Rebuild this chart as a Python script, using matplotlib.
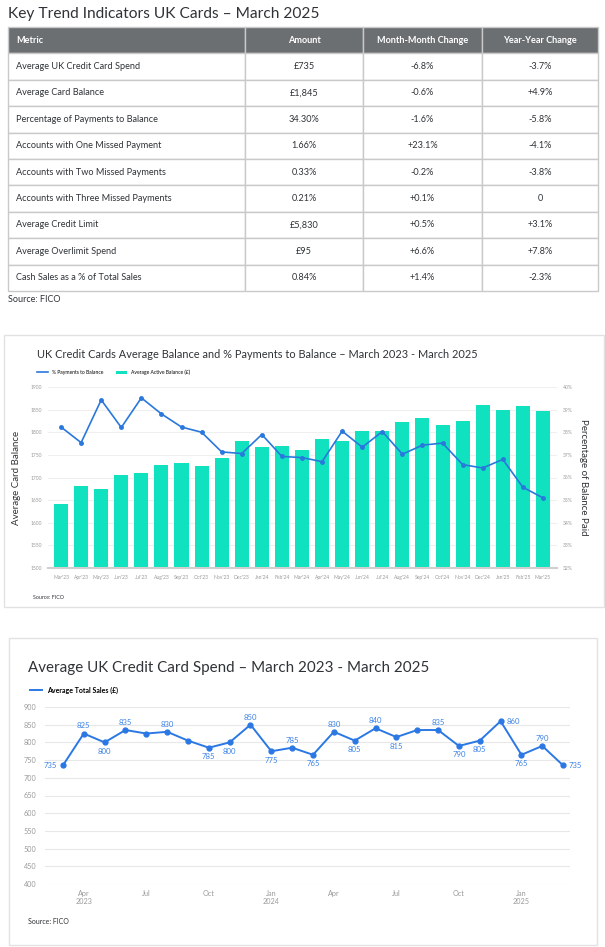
import matplotlib
matplotlib.use("Agg")
from matplotlib import pyplot as plt
from matplotlib.patches import Rectangle
from matplotlib.lines import Line2D

plt.rcParams['font.family'] = ['Lato', 'DejaVu Sans']

# --- table data ---
col_labels = ["Metric", "Amount", "Month-Month Change", "Year-Year Change"]
metrics = ["Average UK Credit Card Spend", "Average Card Balance",
           "Percentage of Payments to Balance", "Accounts with One Missed Payment",
           "Accounts with Two Missed Payments", "Accounts with Three Missed Payments",
           "Average Credit Limit", "Average Overlimit Spend",
           "Cash Sales as a % of Total Sales"]
amounts = ["£735", "£1,845", "34.30%", "1.66%", "0.33%", "0.21%", "£5,830", "£95", "0.84%"]
mom_change = ["-6.8%", "-0.6%", "-1.6%", "+23.1%", "-0.2%", "+0.1%", "+0.5%", "+6.6%", "+1.4%"]
yoy_change = ["-3.7%", "+4.9%", "-5.8%", "-4.1%", "-3.8%", "0", "+3.1%", "+7.8%", "-2.3%"]

# --- balance / payments chart ---
months = ["Mar'23", "Apr'23", "May'23", "Jun'23", "Jul'23", "Aug'23", "Sep'23", "Oct'23",
          "Nov'23", "Dec'23", "Jan'24", "Feb'24", "Mar'24", "Apr'24", "May'24", "Jun'24",
          "Jul'24", "Aug'24", "Sep'24", "Oct'24", "Nov'24", "Dec'24", "Jan'25", "Feb'25", "Mar'25"]
avg_balance = [1642, 1681, 1675, 1705, 1711, 1728, 1732, 1725, 1742, 1781, 1768, 1770, 1761,
               1785, 1781, 1802, 1802, 1823, 1832, 1816, 1825, 1860, 1849, 1858, 1847]
pct_paid = [38.23, 37.54, 39.43, 38.21, 39.52, 38.81, 38.23, 38.0, 37.13, 37.06, 37.9, 36.93,
            36.88, 36.70, 38.05, 37.34, 38.03, 37.03, 37.43, 37.52, 36.57, 36.42, 36.80, 35.57, 35.1]

# --- spend chart ---
avg_spend = [735, 825, 800, 835, 825, 830, 805, 785, 800, 850, 775, 785, 765,
             830, 805, 840, 815, 835, 835, 790, 805, 860, 765, 790, 735]
spend_ticks = ["Apr\n2023", "Jul", "Oct", "Jan\n2024", "Apr", "Jul", "Oct", "Jan\n2025"]
label_pos = ['left', 'above', 'below', 'above', None, 'above', None, 'below', 'below', 'above',
             'below', 'above', 'below', 'above', 'below', 'above', 'below', None, 'above',
             'below', 'below', 'right', 'below', 'above', 'right']

W, H = 605, 947
fig = plt.figure(figsize=(W / 100, H / 100), dpi=100)
fig.patch.set_facecolor("white")


def fr(x0, y0, x1, y1):
    return [x0 / W, 1 - y1 / H, (x1 - x0) / W, (y1 - y0) / H]


def card(x0, y0, x1, y1):
    fig.add_artist(Rectangle((x0 / W, 1 - y1 / H), (x1 - x0) / W, (y1 - y0) / H,
                             transform=fig.transFigure, fill=False,
                             edgecolor="#e2e2e2", linewidth=1))


dark = "#2f3337"
grey = "#9a9a9a"

# ---------------- table ----------------
fig.text(8 / W, 1 - 14 / H, "Key Trend Indicators UK Cards – March 2025",
         fontsize=11.2, color=dark, va="center")
axt = fig.add_axes(fr(8, 27, 598, 291))
axt.axis("off")
rows = [list(r) for r in zip(metrics, amounts, mom_change, yoy_change)]
tbl = axt.table(cellText=rows, colLabels=col_labels, bbox=[0, 0, 1, 1],
                colWidths=[237, 118, 119, 116])
tbl.auto_set_font_size(False)
for (r, c), cell in tbl.get_celld().items():
    cell.set_edgecolor("#c9c9c9")
    cell.set_linewidth(1)
    txt = cell.get_text()
    txt.set_fontsize(6.6)
    if r == 0:
        cell.set_facecolor("#6c6f72")
        txt.set_color("white")
        txt.set_fontweight("bold")
    else:
        txt.set_color(dark)
    if c == 0:
        cell.set_text_props(ha="left")
        cell.PAD = 0.035
    else:
        txt.set_ha("center")
fig.text(8 / W, 1 - 299 / H, "Source: FICO", fontsize=6.5, color=dark, va="center")

# ---------------- balance chart ----------------
card(4, 335, 604, 607)
fig.text(37 / W, 1 - 355 / H,
         "UK Credit Cards Average Balance and % Payments to Balance – March 2023 - March 2025",
         fontsize=7.9, color=dark, va="center")
ax1 = fig.add_axes(fr(48, 387, 557, 568))
x = range(len(months))
bars = ax1.bar(x, avg_balance, width=0.7, color="#10e2c0", zorder=2,
               label="Average Active Balance (£)")
ax1.set_ylim(1500, 1900)
ax1.set_xlim(-0.65, 24.7)
ax1.set_yticks(range(1500, 1901, 50))
ax1.grid(axis="y", color="#efefef", linewidth=0.8, zorder=0)
ax1.set_axisbelow(True)
for s in ["top", "right", "left"]:
    ax1.spines[s].set_visible(False)
ax1.spines["bottom"].set_color("#cfcfcf")
ax1.spines["bottom"].set_linewidth(1.5)
ax1.set_xticks(list(x))
ax1.set_xticklabels(months)
ax1.tick_params(axis="both", length=0, labelsize=3.6, labelcolor=grey)
ax1.tick_params(axis="x", pad=5)
ax1.tick_params(axis="y", pad=4)
ax1.set_ylabel("Average Card Balance", fontsize=7, color=dark, labelpad=7)

ax2 = ax1.twinx()
line, = ax2.plot(x, pct_paid, color="#2a78dc", linewidth=1.2, marker="o",
                 markersize=2.5, label="% Payments to Balance", zorder=3)
ax2.set_ylim(32, 40)
ax2.set_yticks(range(32, 41))
ax2.set_yticklabels([f"{v}%" for v in range(32, 41)])
for s in ["top", "right", "left", "bottom"]:
    ax2.spines[s].set_visible(False)
ax2.tick_params(axis="y", length=0, labelsize=3.6, labelcolor=grey, pad=4)
ax2.set_ylabel("Percentage of Balance Paid", fontsize=7, color=dark, rotation=270,
               labelpad=11)
leg_line = Line2D([], [], color="#2a78dc", linewidth=1.2)
ax1.legend(handles=[leg_line, bars], labels=["% Payments to Balance", "Average Active Balance (£)"],
           loc="lower left", bbox_to_anchor=(-0.025, 1.055),
           ncol=2, fontsize=3.6, frameon=False, handlelength=2.2, columnspacing=2.5,
           borderaxespad=0)
fig.text(33 / W, 1 - 597 / H, "Source: FICO", fontsize=3.8, color=dark, va="center")

# ---------------- spend chart ----------------
card(9, 638, 597, 945)
fig.text(28 / W, 1 - 668 / H, "Average UK Credit Card Spend – March 2023 - March 2025",
         fontsize=10.9, color=dark, va="center")
ax3 = fig.add_axes(fr(45, 707, 570, 884))
xs = list(range(len(avg_spend)))
ax3.plot(xs, avg_spend, color="#2b78e4", linewidth=1.4, marker="o", markersize=3.5,
         zorder=3)
ax3.set_ylim(400, 900)
ax3.set_xlim(-0.86, 24.33)
ax3.set_yticks(range(400, 901, 50))
ax3.grid(axis="y", color="#e8e8e8", linewidth=0.8)
ax3.set_axisbelow(True)
for s in ["top", "right", "left", "bottom"]:
    ax3.spines[s].set_visible(False)
ax3.set_xticks(list(range(1, 25, 3)))
ax3.set_xticklabels(spend_ticks)
ax3.tick_params(axis="both", length=0, labelsize=5.2, labelcolor=grey)
ax3.tick_params(axis="y", pad=6)
ax3.tick_params(axis="x", pad=4)
offsets = {"above": (0, 3, "center", "bottom"), "below": (0, -4, "center", "top"),
           "left": (-4, 0, "right", "center"), "right": (4, 0, "left", "center")}
for xi, v, p in zip(xs, avg_spend, label_pos):
    if p is None:
        continue
    dx, dy, ha, va = offsets[p]
    ax3.annotate(str(v), (xi, v), xytext=(dx, dy), textcoords="offset points",
                 ha=ha, va=va, fontsize=5.6, color="#3b82e6")
spend_handle = Line2D([], [], color="#2b78e4", linewidth=1.4)
ax3.legend(handles=[spend_handle], labels=["Average Total Sales (£)"],
           loc="lower left", bbox_to_anchor=(-0.033, 1.06),
           frameon=False, handlelength=1.6, borderaxespad=0,
           prop={"weight": "bold", "size": 5})
fig.text(28 / W, 1 - 921 / H, "Source: FICO", fontsize=5, color=dark, va="center")

fig.savefig("out.png", dpi=100, facecolor="white")
